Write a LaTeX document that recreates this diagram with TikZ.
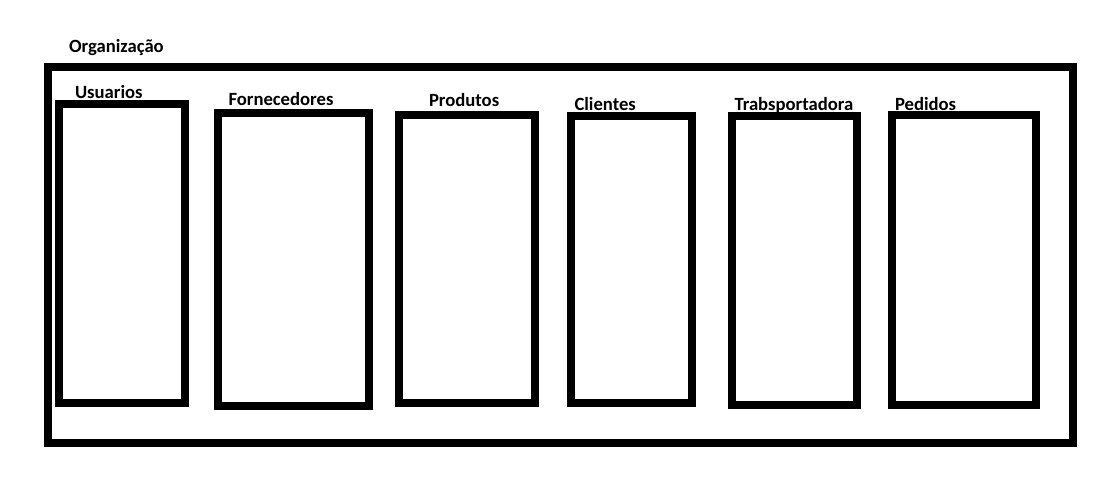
\documentclass[tikz,border=0pt]{standalone}
\usepackage{fontspec}
\setmainfont{Carlito}
\begin{document}
\begin{tikzpicture}[x=1pt,y=-1pt,
  frame/.style={draw=black,line width=7.6pt,inner sep=0pt,outer sep=0pt},
  boxe/.style={draw=black,line width=8pt,inner sep=0pt,outer sep=0pt},
  lbl/.style={anchor=base west,inner sep=0pt,outer sep=0pt,font=\fontsize{18.67pt}{20pt}\selectfont\bfseries}]
\useasboundingbox[fill=white] (0,0) rectangle (1109,483);
% labels
\node[lbl] (torg) at (69,52) {Organização};
\node[lbl] (tusu) at (75,98.5) {Usuarios};
\node[lbl] (tfor) at (228.5,105.5) {Fornecedores};
\node[lbl] (tpro) at (429,106.5) {Produtos};
\node[lbl] (tcli) at (574.5,110.5) {Clientes};
\node[lbl] (ttra) at (734.5,110.5) {Trabsportadora};
\node[lbl] (tped) at (895,110) {Pedidos};
% boxes
\node[frame,minimum width=1025pt,minimum height=376pt] (org) at (560.5,255) {};
\node[boxe,minimum width=126pt,minimum height=299pt] (usu) at (122,253.5) {};
\node[boxe,minimum width=151pt,minimum height=292.5pt] (for) at (293.5,259.25) {};
\node[boxe,minimum width=136pt,minimum height=288pt] (pro) at (467,259) {};
\node[boxe,minimum width=121pt,minimum height=287pt] (cli) at (631.5,259.5) {};
\node[boxe,minimum width=125pt,minimum height=289pt] (tra) at (794.5,260.5) {};
\node[boxe,minimum width=144pt,minimum height=290pt] (ped) at (964,260) {};
\end{tikzpicture}
\end{document}
